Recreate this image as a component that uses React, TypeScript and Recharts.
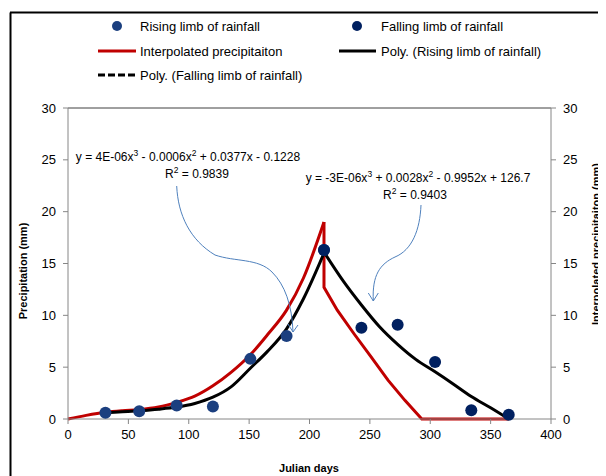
import React from "react";
import {
  ComposedChart,
  Line,
  Scatter,
  XAxis,
  YAxis,
  ReferenceLine,
} from "recharts";

// observed rainfall (julian day, mm)
const risingDays = [31, 59, 90, 120, 151, 181, 212];
const risingRain = [0.6, 0.75, 1.3, 1.2, 5.8, 8.0, 16.3];
const fallingDays = [212, 243, 273, 304, 334, 365];
const fallingRain = [16.3, 8.8, 9.1, 5.5, 0.85, 0.4];

// interpolated precipitation
const interpRiseDays = [0, 15, 31, 45, 59, 75, 90, 105, 120, 135, 151, 165, 181, 195, 212];
const interpRiseVals = [0, 0.35, 0.65, 0.8, 0.9, 1.15, 1.6, 2.2, 3.2, 4.5, 6.2, 8.1, 10.5, 13.6, 19.0];
const interpFallDays = [212, 212, 223, 237, 251, 265, 279, 293, 365];
const interpFallVals = [19.0, 12.7, 10.5, 8.2, 6.0, 3.75, 1.8, 0, 0];

// polynomial trendlines
const polyRiseDays = [31, 45, 59, 75, 90, 105, 120, 135, 151, 165, 181, 195, 212];
const polyRiseVals = [0.6, 0.7, 0.8, 0.95, 1.15, 1.5, 2.1, 3.1, 4.9, 6.5, 8.7, 11.6, 16.0];
const polyFallDays = [212, 228, 243, 258, 273, 288, 304, 319, 334, 350, 365];
const polyFallVals = [16.1, 13.3, 11.0, 8.9, 7.2, 5.75, 4.55, 3.38, 2.17, 1.08, 0];

const xTicks = [0, 50, 100, 150, 200, 250, 300, 350, 400];
const yTicks = [0, 5, 10, 15, 20, 25, 30];

const toPoints = (xs: number[], ys: number[]) => xs.map((x, i) => ({ x, y: ys[i] }));

const FONT = "'Liberation Sans', Arial, sans-serif";
const AXIS_GRAY = "#868686";
const RISE_BLUE = "#1B3F7F";
const FALL_NAVY = "#002060";

const tickStyle = { fontSize: 13, fill: "#000", fontFamily: FONT };

const Dot = (color: string) => (props: any) => {
  const { cx, cy } = props;
  if (cx == null || cy == null) return null;
  return <circle cx={cx} cy={cy} r={6} fill={color} />;
};

const Sup = ({ children }: { children: React.ReactNode }) => (
  <tspan fontSize={8.5} dy={-5}>
    {children}
  </tspan>
);

const Overlay = () => (
  <svg
    width={598}
    height={468}
    style={{ position: "absolute", left: 0, top: 0, pointerEvents: "none", fontFamily: FONT }}
  >
    {/* outer frame */}
    <line x1={2} y1={4.5} x2={598} y2={4.5} stroke="#000" strokeWidth={2} />
    <line x1={2.5} y1={4.5} x2={2.5} y2={468} stroke="#000" strokeWidth={2} />

    {/* legend */}
    <g fontSize={13} fill="#000">
      <circle cx={109} cy={18} r={5} fill={RISE_BLUE} />
      <text x={132} y={22.5}>Rising limb of rainfall</text>
      <circle cx={349} cy={18} r={5} fill={FALL_NAVY} />
      <text x={373} y={22.5}>Falling limb of rainfall</text>

      <line x1={90} y1={43} x2={128} y2={43} stroke="#C00000" strokeWidth={3} />
      <text x={132} y={47.5}>Interpolated precipitaiton</text>
      <line x1={331} y1={43} x2={368} y2={43} stroke="#000" strokeWidth={3} />
      <text x={373} y={47.5}>Poly. (Rising limb of rainfall)</text>

      <line x1={90} y1={67} x2={128} y2={67} stroke="#000" strokeWidth={3} strokeDasharray="7 3" />
      <text x={132} y={71.5}>Poly. (Falling limb of rainfall)</text>
    </g>

    {/* trendline equations */}
    <g fontSize={12} fill="#000" textAnchor="middle">
      <text x={180} y={153}>
        y = 4E-06x<Sup>3</Sup>
        <tspan dy={5}> - 0.0006x</tspan>
        <Sup>2</Sup>
        <tspan dy={5}> + 0.0377x - 0.1228</tspan>
      </text>
      <text x={189} y={169.5}>
        R<Sup>2</Sup>
        <tspan dy={5}> = 0.9839</tspan>
      </text>
      <text x={410} y={174}>
        y = -3E-06x<Sup>3</Sup>
        <tspan dy={5}> + 0.0028x</tspan>
        <Sup>2</Sup>
        <tspan dy={5}> - 0.9952x + 126.7</tspan>
      </text>
      <text x={407} y={190.5}>
        R<Sup>2</Sup>
        <tspan dy={5}> = 0.9403</tspan>
      </text>
    </g>

    {/* callout arrows */}
    <g fill="none" stroke="#4F81BD" strokeWidth={1}>
      <path d="M168.7,178 C170,207 182,232 207,247 C227,254 250,250 264,264 C277,277 284,297 285,324" />
      <path d="M280,316 L285,324 L290,317" />
      <path d="M413,197 C412,222 404,242 387,249 C372,256 364,267 365.3,293" />
      <path d="M360.3,285 L365.3,293 L370.3,285" />
    </g>

    {/* axis titles */}
    <g fontSize={11} fontWeight="bold" fill="#000" textAnchor="middle">
      <text x={14.7} y={263} transform="rotate(-90 14.7 263)" dy={4}>
        Precipitation (mm)
      </text>
      <text x={588} y={236} transform="rotate(-90 588 236)" dy={4}>
        Interpolated precipitaiton (mm)
      </text>
      <text x={301} y={464}>Julian days</text>
    </g>
  </svg>
);

export default function App() {
  return (
    <div style={{ position: "relative", width: 598, height: 468, overflow: "hidden" }}>
      <ComposedChart
        width={598}
        height={468}
        margin={{ top: 100, right: 5, bottom: 0, left: 0 }}
        style={{ fontFamily: FONT }}
      >
        <XAxis
          dataKey="x"
          type="number"
          domain={[0, 400]}
          ticks={xTicks}
          allowDuplicatedCategory={false}
          height={57}
          stroke={AXIS_GRAY}
          tick={tickStyle}
          tickSize={5}
          tickMargin={6}
        />
        <YAxis
          yAxisId="left"
          dataKey="y"
          type="number"
          domain={[0, 30]}
          ticks={yTicks}
          width={60}
          stroke={AXIS_GRAY}
          tick={tickStyle}
          tickSize={5}
          tickMargin={7}
        />
        <YAxis
          yAxisId="right"
          orientation="right"
          type="number"
          domain={[0, 30]}
          ticks={yTicks}
          width={50}
          stroke={AXIS_GRAY}
          tick={tickStyle}
          tickSize={5}
          tickMargin={7}
        />
        <ReferenceLine yAxisId="left" y={30} stroke="#404040" strokeWidth={1} />

        <Line
          yAxisId="right"
          data={toPoints(interpRiseDays, interpRiseVals)}
          dataKey="y"
          type="monotone"
          stroke="#C00000"
          strokeWidth={3}
          dot={false}
          isAnimationActive={false}
        />
        <Line
          yAxisId="right"
          data={toPoints(interpFallDays, interpFallVals)}
          dataKey="y"
          type="linear"
          stroke="#C00000"
          strokeWidth={3}
          dot={false}
          isAnimationActive={false}
        />
        <Line
          yAxisId="left"
          data={toPoints(polyRiseDays, polyRiseVals)}
          dataKey="y"
          type="monotone"
          stroke="#000"
          strokeWidth={3}
          dot={false}
          isAnimationActive={false}
        />
        <Line
          yAxisId="left"
          data={toPoints(polyFallDays, polyFallVals)}
          dataKey="y"
          type="monotone"
          stroke="#000"
          strokeWidth={3}
          dot={false}
          isAnimationActive={false}
        />
        <Scatter
          yAxisId="left"
          data={toPoints(risingDays, risingRain)}
          dataKey="y"
          shape={Dot(RISE_BLUE)}
          isAnimationActive={false}
        />
        <Scatter
          yAxisId="left"
          data={toPoints(fallingDays, fallingRain)}
          dataKey="y"
          shape={Dot(FALL_NAVY)}
          isAnimationActive={false}
        />
      </ComposedChart>
      <Overlay />
    </div>
  );
}
